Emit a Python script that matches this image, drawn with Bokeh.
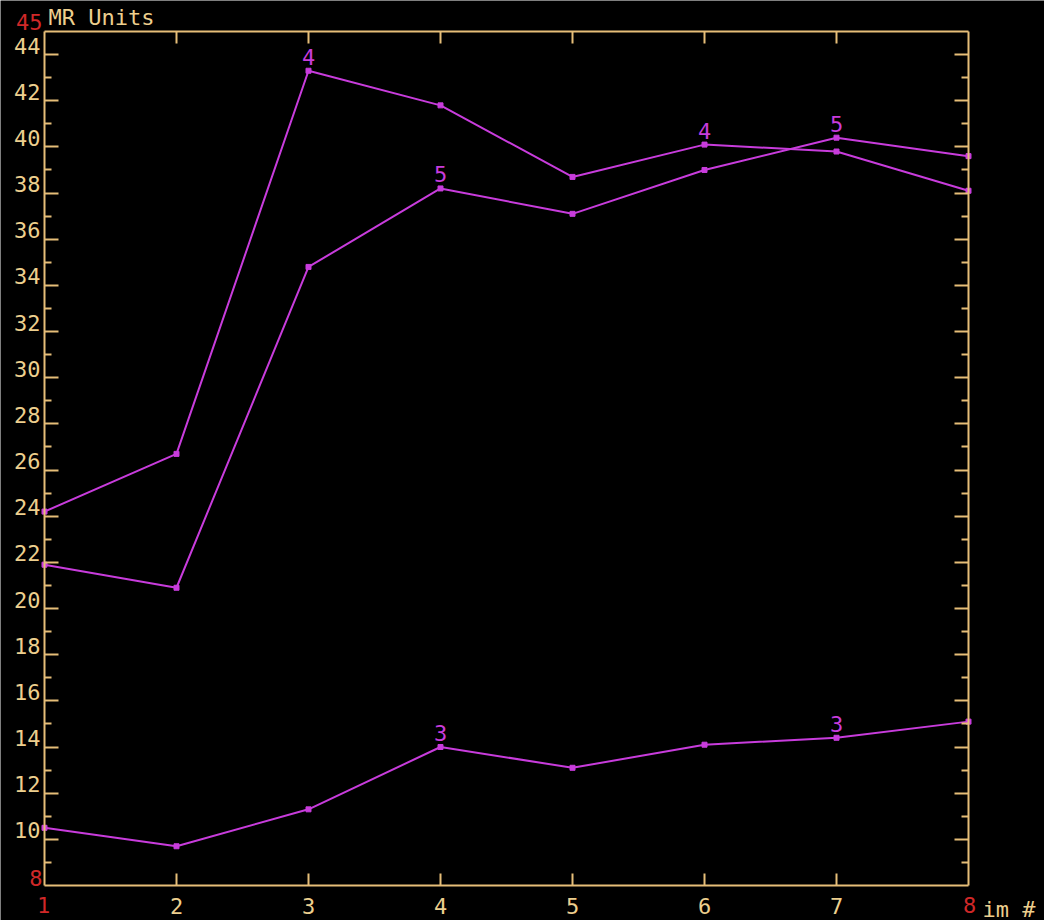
from bokeh.plotting import figure
from bokeh.models import Range1d, LinearAxis, FixedTicker, ColumnDataSource, CustomJSTickFormatter
from bokeh.core.properties import value
from bokeh.embed import file_html
from bokeh.resources import INLINE

# ---- data ----
im = [1, 2, 3, 4, 5, 6, 7, 8]
series_4 = [24.2, 26.7, 43.3, 41.8, 38.7, 40.1, 39.8, 38.1]
series_5 = [21.9, 20.9, 34.8, 38.2, 37.1, 39.0, 40.4, 39.6]
series_3 = [10.5, 9.7, 11.3, 14.0, 13.1, 14.1, 14.4, 15.1]

# curve number tags: (curve name, image #)
tag_names = ["4", "4", "5", "5", "3", "3"]
tag_im = [3, 6, 4, 7, 4, 7]

y_major = [10, 12, 14, 16, 18, 20, 22, 24, 26, 28, 30, 32, 34, 36, 38, 40, 42, 44]
y_minor = [9, 11, 13, 15, 17, 19, 21, 23, 25, 27, 29, 31, 33, 35, 37, 39, 41, 43]
x_major = [2, 3, 4, 5, 6, 7]
x_min, x_max = 1, 8
y_min, y_max = 8, 45
y_title = "MR Units"
x_title = "im #"

# ---- styles / layout ----
BG = "#000000"
AXIS = "#E6BE78"
TXT = "#EDCF8E"
RED = "#D02828"
MAG = "#C83CDC"
FONT = "DejaVu Sans Mono"
FS = "22px"

W, H = 1044, 920
PAD_L, PAD_R, PAD_T, PAD_B = 44, 76, 31, 35   # room around the axes box, px
ppx = (W - PAD_L - PAD_R) / (x_max - x_min)
ppy = (H - PAD_T - PAD_B) / (y_max - y_min)
xr = Range1d(x_min - PAD_L / ppx, x_max + PAD_R / ppx)
yr = Range1d(y_min - PAD_B / ppy, y_max + PAD_T / ppy)

p = figure(width=W, height=H, x_range=xr, y_range=yr,
           output_backend="svg", toolbar_location=None,
           x_axis_location=None, y_axis_location=None, min_border=0)
p.background_fill_color = BG
p.border_fill_color = BG
p.outline_line_color = None
p.xgrid.visible = False
p.ygrid.visible = False

blank = CustomJSTickFormatter(code="return ''")


def make_axis(loc, bounds, ticks, minor, tin, minin, labels):
    ax = LinearAxis(fixed_location=loc, bounds=bounds)
    ax.ticker = FixedTicker(ticks=ticks, minor_ticks=minor)
    ax.axis_line_color = AXIS
    ax.axis_line_width = 2
    ax.major_tick_line_color = AXIS
    ax.major_tick_line_width = 2
    ax.minor_tick_line_color = AXIS
    ax.minor_tick_line_width = 2
    ax.major_tick_in = tin
    ax.major_tick_out = 0
    ax.minor_tick_in = minin
    ax.minor_tick_out = 0
    ax.major_label_text_color = TXT
    ax.major_label_text_font = FONT
    ax.major_label_text_font_size = FS
    if not labels:
        ax.formatter = blank
        ax.major_label_standoff = 0
    return ax


# left axis: ticks here, its labels are drawn just above each tick (see below)
left = make_axis(x_min, (y_min, y_max), y_major, y_minor, 14, 7, False)
p.add_layout(left, "left")

right = make_axis(x_max, (y_min, y_max), y_major, y_minor, 14, 7, False)
p.add_layout(right, "right")

top = make_axis(y_max, (x_min, x_max), x_major, [], 12, 0, False)
p.add_layout(top, "above")

bottom = make_axis(y_min, (x_min, x_max), x_major, [], 12, 0, True)
bottom.major_label_standoff = 12
p.add_layout(bottom, "below")

# y tick labels, sitting on their tick like the original
p.text(x=[x_min] * len(y_major), y=y_major, text=[str(v) for v in y_major],
       text_color=TXT, text_font=value(FONT), text_font_size=value(FS),
       text_align="right", text_baseline="bottom", x_offset=-4, y_offset=-1)

# ---- curves ----
for ys in (series_4, series_5, series_3):
    p.line(im, ys, line_color=MAG, line_width=2)
    p.scatter(im, ys, marker="square", size=5, fill_color=MAG, line_color=MAG)

curves = {"4": series_4, "5": series_5, "3": series_3}
tag_y = [curves[n][im.index(x)] for n, x in zip(tag_names, tag_im)]
src = ColumnDataSource(dict(x=tag_im, y=tag_y, t=tag_names))
p.text(x="x", y="y", text="t", source=src, text_color=MAG, text_font=value(FONT),
       text_font_size=value(FS), text_align="center", text_baseline="bottom",
       y_offset=-6)


# ---- corner texts ----
def txt(x, y, s, color, align, baseline, xo, yo):
    p.text(x=[x], y=[y], text=[s], text_color=color, text_font=value(FONT),
           text_font_size=value(FS), text_align=align, text_baseline=baseline,
           x_offset=xo, y_offset=yo)


txt(x_min, y_max, str(y_max), RED, "right", "bottom", -2, -2)
txt(x_min, y_max, y_title, TXT, "left", "bottom", 4, -2)
txt(x_min, y_min, str(y_min), RED, "right", "bottom", -2, 0)
txt(x_min, y_min, str(x_min), RED, "center", "top", -1, 11)
txt(x_max, y_min, str(x_max), RED, "center", "top", 1, 11)
txt(x_max, y_min, x_title, TXT, "left", "top", 14, 11)

open("out.html", "w").write(file_html(p, INLINE))
